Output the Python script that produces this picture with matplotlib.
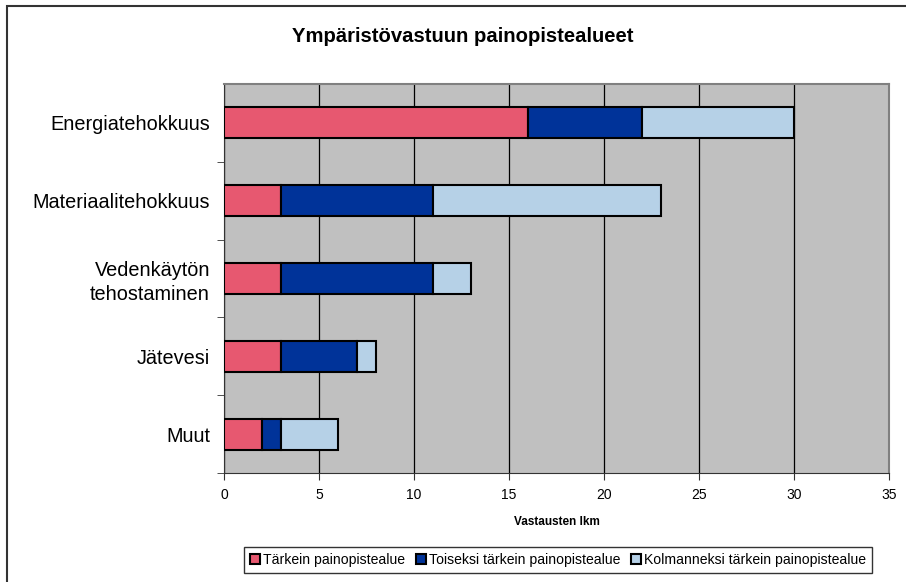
import matplotlib.pyplot as plt
from matplotlib.patches import Rectangle

categories = ["Energiatehokkuus", "Materiaalitehokkuus", "Vedenkäytön\ntehostaminen", "Jätevesi", "Muut"]
series_names = ["Tärkein painopistealue", "Toiseksi tärkein painopistealue", "Kolmanneksi tärkein painopistealue"]
first = [16, 3, 3, 3, 2]
second = [6, 8, 8, 4, 1]
third = [8, 12, 2, 1, 3]
colors = ["#E75870", "#003399", "#B6D1E7"]
xticks = [0, 5, 10, 15, 20, 25, 30, 35]

plt.rcParams["font.family"] = ["Liberation Sans", "DejaVu Sans"]

fig = plt.figure(figsize=(9.06, 5.82), dpi=100)
fig.patches.append(Rectangle((7 / 906, -0.1), 2, 1.1 - 6 / 582, transform=fig.transFigure,
                             fill=False, edgecolor="#333333", linewidth=1.5))

ax = fig.add_axes([224 / 906, 1 - 473 / 582, 665 / 906, 389 / 582])
ax.set_facecolor("#C0C0C0")

ypos = list(range(len(categories)))
left = [0] * len(categories)
for vals, col, name in zip([first, second, third], colors, series_names):
    ax.barh(ypos, vals, left=left, height=0.4, color=col, edgecolor="black",
            linewidth=1.5, label=name, zorder=3)
    left = [a + b for a, b in zip(left, vals)]

ax.set_xlim(0, 35)
ax.set_ylim(len(categories) - 0.5, -0.5)
ax.set_xticks(xticks)
ax.set_xticklabels([str(t) for t in xticks], fontsize=10)
ax.set_yticks(ypos)
ax.set_yticklabels(categories, fontsize=14.3, linespacing=1.3)
ax.tick_params(axis="y", length=0, pad=10)
ax.set_yticks([i + 0.5 for i in range(len(categories))], minor=True)
ax.tick_params(axis="y", which="minor", length=5, direction="out", color="#333333")
ax.tick_params(axis="x", length=5, direction="out", color="#333333", pad=6)
for lbl in ax.get_yticklabels():
    lbl.set_horizontalalignment("right")
    lbl.set_multialignment("right")
ax.xaxis.grid(True, color="black", linewidth=0.9, zorder=1)
ax.set_axisbelow(True)
for side in ["top", "right"]:
    ax.spines[side].set_color("#808080")
    ax.spines[side].set_linewidth(1.5)
ax.spines["left"].set_color("#333333")
ax.spines["bottom"].set_color("#333333")

ax.set_xlabel("Vastausten lkm", fontsize=8.5, fontweight="bold", labelpad=10)
fig.text(463 / 906, 1 - 37 / 582, "Ympäristövastuun painopistealueet", ha="center", va="center",
         fontsize=14.6, fontweight="bold")

leg = fig.legend(loc="center", bbox_to_anchor=(558 / 906, 1 - 560 / 582), ncol=3, fontsize=10.1,
                 frameon=True, fancybox=False, handlelength=0.7, handleheight=0.7,
                 handletextpad=0.2, columnspacing=0.8, borderpad=0.45)
leg.get_frame().set_edgecolor("black")
leg.get_frame().set_linewidth(1)

fig.savefig("out.png", dpi=100)
